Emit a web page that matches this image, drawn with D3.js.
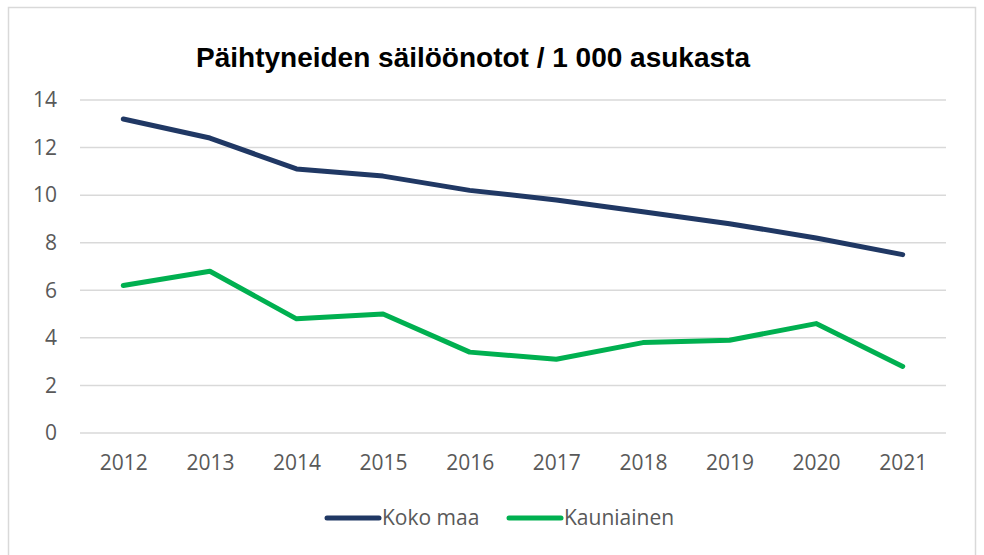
<!DOCTYPE html>
<html lang="fi">
  <head>
    <meta charset="utf-8">
    <title>Päihtyneiden säilöönotot</title>
    <script src="https://d3js.org/d3.v7.min.js"></script>
    <style>
      body { margin: 0; background: #fff; }
    </style>
  </head>
  <body>
    <script type="text/javascript">
      const years = ["2012","2013","2014","2015","2016","2017","2018","2019","2020","2021"];
      const kokoMaa = [13.2, 12.4, 11.1, 10.8, 10.2, 9.8, 9.3, 8.8, 8.2, 7.5];
      const kauniainen = [6.2, 6.8, 4.8, 5.0, 3.4, 3.1, 3.8, 3.9, 4.6, 2.8];
      const yTicks = [0, 2, 4, 6, 8, 10, 12, 14];
      const seriesNames = ["Koko maa", "Kauniainen"];
      const seriesColors = ["#203864", "#00b050"];

      const svgWidth = 984;
      const svgHeight = 555;
      const font = "'Open Sans', sans-serif";
      const titleFont = "'Liberation Sans', Arial, sans-serif";

      const margin = {left: 80, right: 38, top: 100, bottom: 122};

      const svg = d3.select("body")
        .append("svg")
        .attr("width", svgWidth)
        .attr("height", svgHeight);

      // chart frame
      svg.append("rect")
        .attr("x", 8.5)
        .attr("y", 7.5)
        .attr("width", 967)
        .attr("height", 560)
        .attr("fill", "white")
        .attr("stroke", "#d9d9d9")
        .attr("stroke-width", 1.5);

      const xScale = d3.scalePoint()
        .domain(years)
        .range([margin.left, svgWidth - margin.right])
        .padding(0.5);

      const yScale = d3.scaleLinear()
        .domain([0, 14])
        .range([svgHeight - margin.bottom, margin.top]);

      // gridlines
      svg.append("g")
        .attr("class", "grid")
        .selectAll("line")
        .data(yTicks)
        .enter()
        .append("line")
        .attr("x1", margin.left)
        .attr("x2", svgWidth - margin.right)
        .attr("y1", d => yScale(d))
        .attr("y2", d => yScale(d))
        .attr("stroke", "#d9d9d9")
        .attr("stroke-width", 1.5);

      const yAxis = svg.append("g")
        .attr("transform", `translate(${margin.left - 23},0)`)
        .call(d3.axisLeft(yScale).tickValues(yTicks).tickSize(0).tickPadding(0));
      yAxis.select(".domain").remove();
      yAxis.selectAll("text")
        .attr("font-family", font)
        .attr("font-size", "21px")
        .attr("fill", "#595959");

      const xAxis = svg.append("g")
        .attr("transform", `translate(0,${yScale(0) + 22})`)
        .call(d3.axisBottom(xScale).tickSize(0).tickPadding(0));
      xAxis.select(".domain").remove();
      xAxis.selectAll("text")
        .attr("font-family", font)
        .attr("font-size", "21px")
        .attr("fill", "#595959")
        .attr("dy", "0.71em");

      const line = d3.line()
        .x((d, i) => xScale(years[i]))
        .y(d => yScale(d));

      svg.append("g")
        .attr("class", "lines")
        .selectAll("path")
        .data([kokoMaa, kauniainen])
        .enter()
        .append("path")
        .attr("d", d => line(d))
        .attr("fill", "none")
        .attr("stroke", (d, i) => seriesColors[i])
        .attr("stroke-width", 5)
        .attr("stroke-linecap", "round")
        .attr("stroke-linejoin", "round");

      svg.append("text")
        .attr("x", 473)
        .attr("y", 67)
        .attr("text-anchor", "middle")
        .attr("font-family", titleFont)
        .attr("font-size", "28px")
        .attr("font-weight", "bold")
        .attr("fill", "#000")
        .text("Päihtyneiden säilöönotot / 1 000 asukasta");

      // legend
      const legendX = [327, 509];
      const legend = svg.append("g")
        .attr("class", "legend")
        .selectAll("g")
        .data(seriesNames)
        .enter()
        .append("g")
        .attr("transform", (d, i) => `translate(${legendX[i]},518)`);
      legend.append("line")
        .attr("x1", 0)
        .attr("x2", 52)
        .attr("stroke", (d, i) => seriesColors[i])
        .attr("stroke-width", 5)
        .attr("stroke-linecap", "round");
      legend.append("text")
        .attr("x", 55)
        .attr("y", 0)
        .attr("dy", "0.35em")
        .attr("font-family", font)
        .attr("font-size", "21px")
        .attr("fill", "#595959")
        .text(d => d);
    </script>
  </body>
</html>
